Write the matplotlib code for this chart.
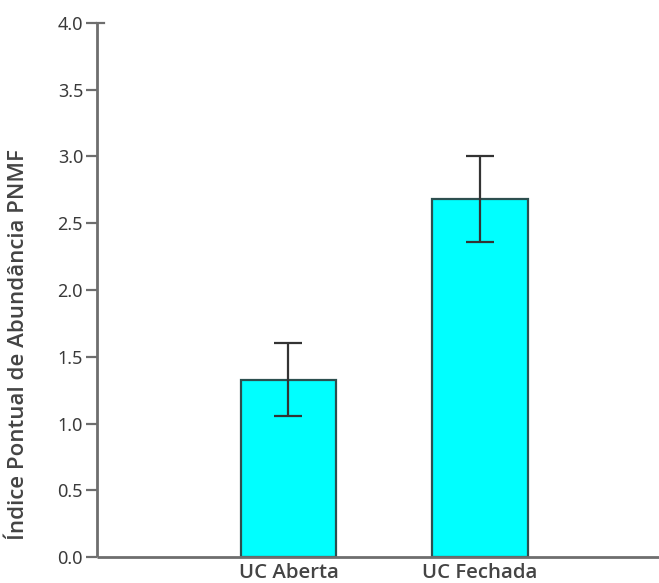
import numpy as np
import matplotlib.pyplot as plt

# mean abundance index per area type, with error half-widths
groups = ['UC Aberta', 'UC Fechada']
means = [1.33, 2.68]
errors = [0.275, 0.32]
yticks = [0.0, 0.5, 1.0, 1.5, 2.0, 2.5, 3.0, 3.5, 4.0]

plt.rcParams['font.family'] = ['Noto Sans', 'DejaVu Sans']
bold_font = ['Open Sans', 'DejaVu Sans']
text_col = '#3a3a3a'
label_col = '#444444'
axis_col = '#6e6e6e'

fig = plt.figure(figsize=(6.59, 5.83), dpi=100)
ax = fig.add_axes([97/659, (583-557.3)/583, 1 - 97/659, (557.3-22.7)/583])

x = np.arange(len(groups))
ax.bar(x, means, width=0.5, color='#00ffff', edgecolor='#2d4f4f', linewidth=1.6, zorder=2)
ax.errorbar(x, means, yerr=errors, fmt='none', ecolor='#333333', elinewidth=1.6,
            capsize=10, capthick=1.6, zorder=3)

ax.set_xlim(-1, 1.935)
ax.set_ylim(0, 4.0)
ax.set_yticks(yticks)
ax.set_yticklabels([f'{t:.1f}' for t in yticks], fontsize=13, color=text_col)
ax.set_xticks(x)
ax.set_xticklabels(groups, fontsize=14.7, fontweight='semibold', fontstretch='normal',
                   color=label_col, family=bold_font)

for s in ['top', 'right']:
    ax.spines[s].set_visible(False)
for s in ['left', 'bottom']:
    ax.spines[s].set_color(axis_col)
    ax.spines[s].set_linewidth(2)
    ax.spines[s].set_capstyle('butt')
ax.tick_params(axis='y', length=8, width=1.6, color=axis_col, pad=2)
ax.tick_params(axis='x', length=0, pad=4)

# small tick to the right of the axis top
ax.plot([0, 0.012], [4.0, 4.0], transform=ax.get_yaxis_transform(),
        color=axis_col, lw=1.6, clip_on=False)

fig.text(19/659, 1 - 345/583, 'Índice Pontual de Abundância PNMF', rotation=90,
         ha='center', va='center', fontsize=16, fontweight='semibold',
         fontstretch='normal', color=label_col, family=bold_font)

fig.savefig('out.png', dpi=100)
